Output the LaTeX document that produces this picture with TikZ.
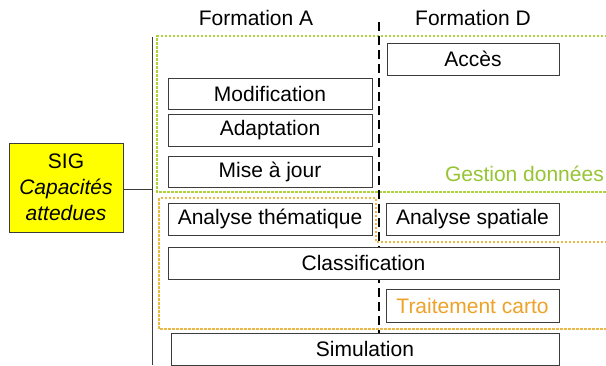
\documentclass[tikz,border=0pt]{standalone}
\usepackage{fontspec}
\setmainfont{Liberation Sans}
\definecolor{gtxt}{RGB}{150,196,50}
\definecolor{gdash}{RGB}{175,210,60}
\definecolor{otxt}{RGB}{238,162,40}
\definecolor{odash}{RGB}{232,185,70}
\definecolor{sigy}{RGB}{255,255,0}
\definecolor{bord}{RGB}{60,60,60}
\tikzset{
  capbox/.style={draw=bord, line width=0.9pt, fill=white, inner sep=0pt, font=\fontsize{21}{25}\selectfont},
  lbl/.style={inner sep=0pt, font=\fontsize{21}{25}\selectfont},
  gline/.style={draw=gdash, line width=1.2pt, dash pattern=on 2.5pt off 1.5pt},
  oline/.style={draw=odash, line width=1.2pt, dash pattern=on 2.5pt off 1.5pt},
}
\begin{document}
\begin{tikzpicture}[x=1pt,y=-1pt]
\useasboundingbox (0,0) rectangle (606,365);
% regions
\draw[gline] (607,36) -- (157,36) -- (157,192) -- (607,192);
\draw[oline] (607,242) -- (376,242) -- (376,198) -- (159,198) -- (159,329) -- (607,329);
% vertical lines
\coordinate (vtop) at (152,37);
\coordinate (vbot) at (152,365);
\draw[bord, line width=1pt] (vtop) -- (vbot);
\coordinate (dtop) at (379,22);
\coordinate (dbot) at (379,334);
\draw[black, line width=1.4pt, dash pattern=on 9pt off 5pt] (dtop) -- (dbot);
% headers
\node[lbl] (fa) at (256,18) {Formation A};
\node[lbl] (fd) at (473,18) {Formation D};
% boxes
\node[capbox, minimum width=172pt, minimum height=32pt] (acces) at (473,59) {Accès};
\node[capbox, minimum width=204pt, minimum height=31pt] (modif) at (270,93.5) {Modification};
\node[capbox, minimum width=204pt, minimum height=32pt] (adapt) at (270,130) {Adaptation};
\node[capbox, minimum width=204pt, minimum height=31pt] (maj) at (270,171.5) {Mise à jour};
\node[capbox, minimum width=204pt, minimum height=32pt] (anth) at (270,219) {Analyse thématique};
\node[capbox, minimum width=173pt, minimum height=32pt] (ansp) at (472.5,219) {Analyse spatiale};
\node[capbox, minimum width=391pt, minimum height=32pt] (classif) at (363.5,263) {Classification};
\node[capbox, minimum width=173pt, minimum height=33pt, text=otxt] (trait) at (472.5,305.5) {Traitement carto};
\node[capbox, minimum width=388pt, minimum height=32pt] (simul) at (365,349) {Simulation};
\node[lbl, anchor=east, text=gtxt] (gest) at (604,174) {Gestion données};
% SIG
\node[draw=bord, line width=0.9pt, fill=sigy, minimum width=114pt, minimum height=89pt, inner sep=0pt, align=center, font=\fontsize{21}{26}\selectfont] (sig) at (66,187.5) {SIG\\\itshape Capacités\\\itshape attedues};
\coordinate (join) at (152,189);
\draw[bord, line width=1pt] (sig.east |- join) -- (join);
\end{tikzpicture}
\end{document}
